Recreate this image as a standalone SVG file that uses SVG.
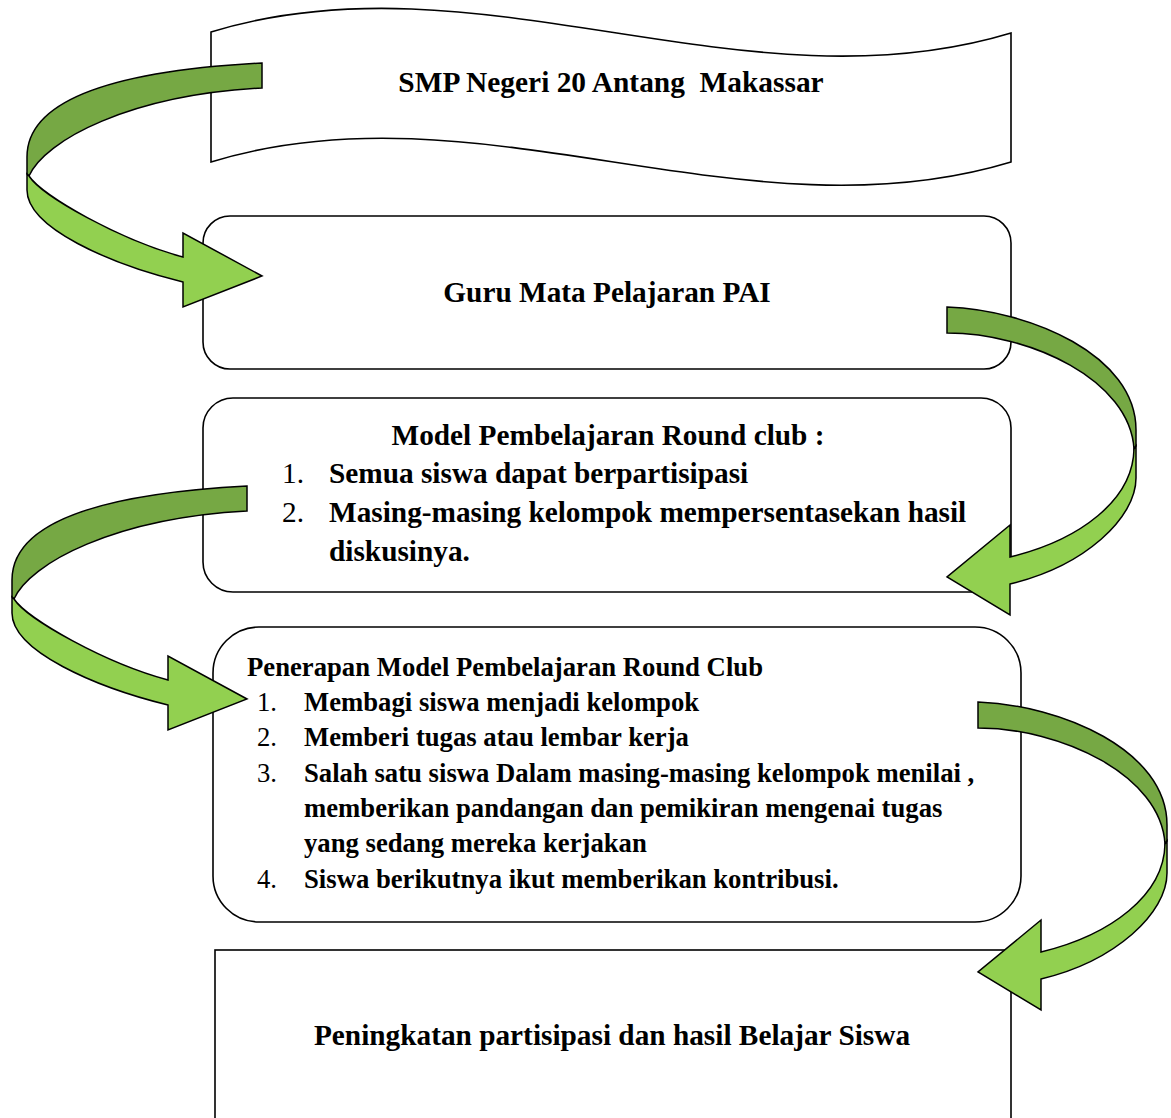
<svg xmlns="http://www.w3.org/2000/svg" width="1171" height="1118" viewBox="0 0 1171 1118">
<style>
.box{fill:#ffffff;stroke:#000000;stroke-width:1.6}
.dk{fill:#76A844;stroke:#000000;stroke-width:1.5;stroke-linejoin:miter}
.lt{fill:#92D050;stroke:#000000;stroke-width:1.5;stroke-linejoin:miter}
.t{font-family:"Liberation Serif","Times New Roman",serif;font-weight:bold;fill:#000000}
.n{font-family:"Liberation Serif","Times New Roman",serif;font-weight:normal;fill:#000000}
.c{text-anchor:middle}
</style>
<defs>
<g id="curve-left">
<path class="dk" d="M262,63 C130,70 27,95 27,157 L27,174 L29,176 C45,140 130,95 262,88 Z"/>
<path class="lt" d="M29,176 C42,196 120,240 183,257 L183,233 L262,276 L183,307 L183,282 C110,264 27,228 27,190 L27,174 Z"/>
</g>
<g id="curve-right">
<path class="dk" d="M947,307 C1030,310 1136,355 1136,430 L1136,446 L1134,449 C1130,380 1030,333 947,333 Z"/>
<path class="lt" d="M1134,449 C1133,500 1080,540 1010,557 L1010,525 L947,577 L1010,615 L1010,584 C1085,566 1136,518 1136,478 L1136,446 Z"/>
</g>
</defs>
<rect x="0" y="0" width="1171" height="1118" fill="#ffffff"/>
<g id="node-school">
<path class="box" d="M211,32 C478,-50 744,114 1011,33 L1011,162 C744,243 478,80 211,162 Z"/>
<text class="t c" x="611" y="92" font-size="29.4" xml:space="preserve">SMP Negeri 20 Antang  Makassar</text>
</g>
<g id="node-guru">
<rect class="box" x="203" y="216" width="808" height="153" rx="27" ry="27"/>
<text class="t c" x="607" y="302" font-size="29.3">Guru Mata Pelajaran PAI</text>
</g>
<g id="node-model">
<rect class="box" x="203" y="398" width="808" height="194" rx="30" ry="30"/>
<text class="t c" x="608" y="445" font-size="29.3">Model Pembelajaran Round club :</text>
<text class="n" x="282" y="483" font-size="29.3">1.</text>
<text class="t" x="329" y="483" font-size="29.3">Semua siswa dapat berpartisipasi</text>
<text class="n" x="282" y="522" font-size="29.3">2.</text>
<text class="t" x="329" y="522" font-size="29.3">Masing-masing kelompok mempersentasekan hasil</text>
<text class="t" x="329" y="561" font-size="29.3">diskusinya.</text>
</g>
<g id="node-penerapan">
<rect class="box" x="213" y="627" width="808" height="295" rx="46" ry="46"/>
<text class="t" x="247" y="676" font-size="26.7">Penerapan Model Pembelajaran Round Club</text>
<text class="n" x="257" y="711" font-size="26.7">1.</text>
<text class="t" x="304" y="711" font-size="26.7">Membagi siswa menjadi kelompok</text>
<text class="n" x="257" y="746" font-size="26.7">2.</text>
<text class="t" x="304" y="746" font-size="26.7">Memberi tugas atau lembar kerja</text>
<text class="n" x="257" y="782" font-size="26.7">3.</text>
<text class="t" x="304" y="782" font-size="26.7">Salah satu siswa Dalam masing-masing kelompok menilai ,</text>
<text class="t" x="304" y="817" font-size="26.7">memberikan pandangan dan pemikiran mengenai tugas</text>
<text class="t" x="304" y="852" font-size="26.7">yang sedang mereka kerjakan</text>
<text class="n" x="257" y="888" font-size="26.7">4.</text>
<text class="t" x="304" y="888" font-size="26.7">Siswa berikutnya ikut memberikan kontribusi.</text>
</g>
<g id="node-hasil">
<rect class="box" x="215" y="950" width="796" height="190"/>
<text class="t c" x="612" y="1045" font-size="29.3">Peningkatan partisipasi dan hasil Belajar Siswa</text>
</g>
<g id="connectors">
<use id="arrow-1" href="#curve-left"/>
<use id="arrow-2" href="#curve-right"/>
<use id="arrow-3" href="#curve-left" transform="translate(-15,423)"/>
<use id="arrow-4" href="#curve-right" transform="translate(31,395)"/>
</g>
</svg>
